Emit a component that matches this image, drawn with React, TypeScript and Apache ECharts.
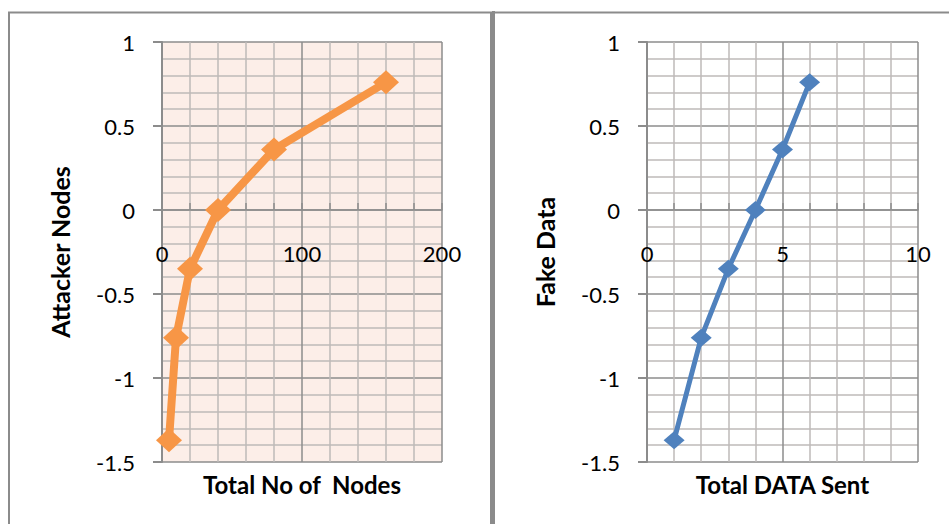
import React, { useEffect, useRef } from "react";
import * as echarts from "echarts";

const nodesX = [5, 10, 20, 40, 80, 160];
const attackerY = [-1.37, -0.76, -0.35, 0, 0.36, 0.76];
const dataSentX = [1, 2, 3, 4, 5, 6];
const fakeDataY = [-1.37, -0.76, -0.35, 0, 0.36, 0.76];

const FONT = "Lato";
const MAJOR = "#8C8C8C";
const MINOR = "#BEBAB8";

function yAxis(gridIndex: number, name: string, nameGap: number) {
  return {
    type: "value",
    gridIndex,
    min: -1.5,
    max: 1,
    interval: 0.5,
    name,
    nameLocation: "middle",
    nameGap,
    nameTextStyle: { fontFamily: FONT, fontSize: 25, fontWeight: "bold", color: "#000" },
    axisLine: { show: true, onZero: false, lineStyle: { color: MAJOR, width: 2 } },
    axisTick: { show: true, length: 9, lineStyle: { color: MAJOR, width: 2 } },
    axisLabel: { fontFamily: FONT, fontSize: 22, color: "#000", margin: 27 },
    splitLine: { show: true, lineStyle: { color: MAJOR, width: 1.5 } },
    minorTick: { show: false, splitNumber: 5 },
    minorSplitLine: { show: true, lineStyle: { color: MINOR, width: 1.5 } },
  };
}

function xAxis(gridIndex: number, max: number, interval: number, name: string) {
  return {
    type: "value",
    gridIndex,
    min: 0,
    max,
    interval,
    position: "bottom",
    offset: -252,
    name,
    nameLocation: "middle",
    nameGap: 262,
    nameTextStyle: { fontFamily: FONT, fontSize: 24, fontWeight: "bold", color: "#000" },
    axisLine: { show: true, onZero: false, lineStyle: { color: MAJOR, width: 1.5 } },
    axisTick: { show: true, inside: true, length: 7, lineStyle: { color: MAJOR, width: 1.5 } },
    minorTick: { show: true, splitNumber: 5, length: 7, lineStyle: { color: MAJOR, width: 1.5 } },
    axisLabel: { fontFamily: FONT, fontSize: 22, color: "#000", margin: 32 },
    splitLine: { show: true, lineStyle: { color: MAJOR, width: 1.5 } },
    minorSplitLine: { show: true, lineStyle: { color: MINOR, width: 1.5 } },
  };
}

export default function App() {
  const ref = useRef<HTMLDivElement>(null);
  useEffect(() => {
    document.body.style.margin = "0";
    const chart = echarts.init(ref.current!, null, { renderer: "svg" });
    chart.setOption({
      animation: false,
      backgroundColor: "#fff",
      textStyle: { fontFamily: FONT },
      grid: [
        { left: 162, top: 42, width: 280, height: 420, show: true, backgroundColor: "#FCEEE8", borderWidth: 0, containLabel: false, outerBoundsMode: "none" },
        { left: 647, top: 42, width: 271, height: 420, show: true, backgroundColor: "#fff", borderWidth: 0, containLabel: false, outerBoundsMode: "none" },
      ],
      xAxis: [xAxis(0, 200, 100, "Total No of  Nodes"), xAxis(1, 10, 5, "Total DATA Sent")],
      yAxis: [yAxis(0, "Attacker Nodes", 90), yAxis(1, "Fake Data", 90)],
      series: [
        {
          type: "line",
          xAxisIndex: 0,
          yAxisIndex: 0,
          data: nodesX.map((x, i) => [x, attackerY[i]]),
          symbol: "diamond",
          symbolSize: [26, 24],
          itemStyle: { color: "#F79646" },
          lineStyle: { color: "#F79646", width: 8 },
        },
        {
          type: "line",
          xAxisIndex: 1,
          yAxisIndex: 1,
          data: dataSentX.map((x, i) => [x, fakeDataY[i]]),
          symbol: "diamond",
          symbolSize: [21, 18],
          itemStyle: { color: "#4F81BD" },
          lineStyle: { color: "#4F81BD", width: 5 },
        },
      ],
      graphic: [
        { type: "rect", shape: { x: 9, y: 12.5, width: 482, height: 540 }, style: { fill: "none", stroke: "#8B8B8B", lineWidth: 2 }, z: 100 },
        { type: "line", shape: { x1: 493.5, y1: 11, x2: 493.5, y2: 530 }, style: { stroke: "#8B8B8B", lineWidth: 3 }, z: 100 },
        { type: "line", shape: { x1: 493, y1: 12.5, x2: 960, y2: 12.5 }, style: { stroke: "#8B8B8B", lineWidth: 2 }, z: 100 },
      ],
    });
    return () => chart.dispose();
  }, []);
  return <div ref={ref} style={{ width: 949, height: 524 }} />;
}
